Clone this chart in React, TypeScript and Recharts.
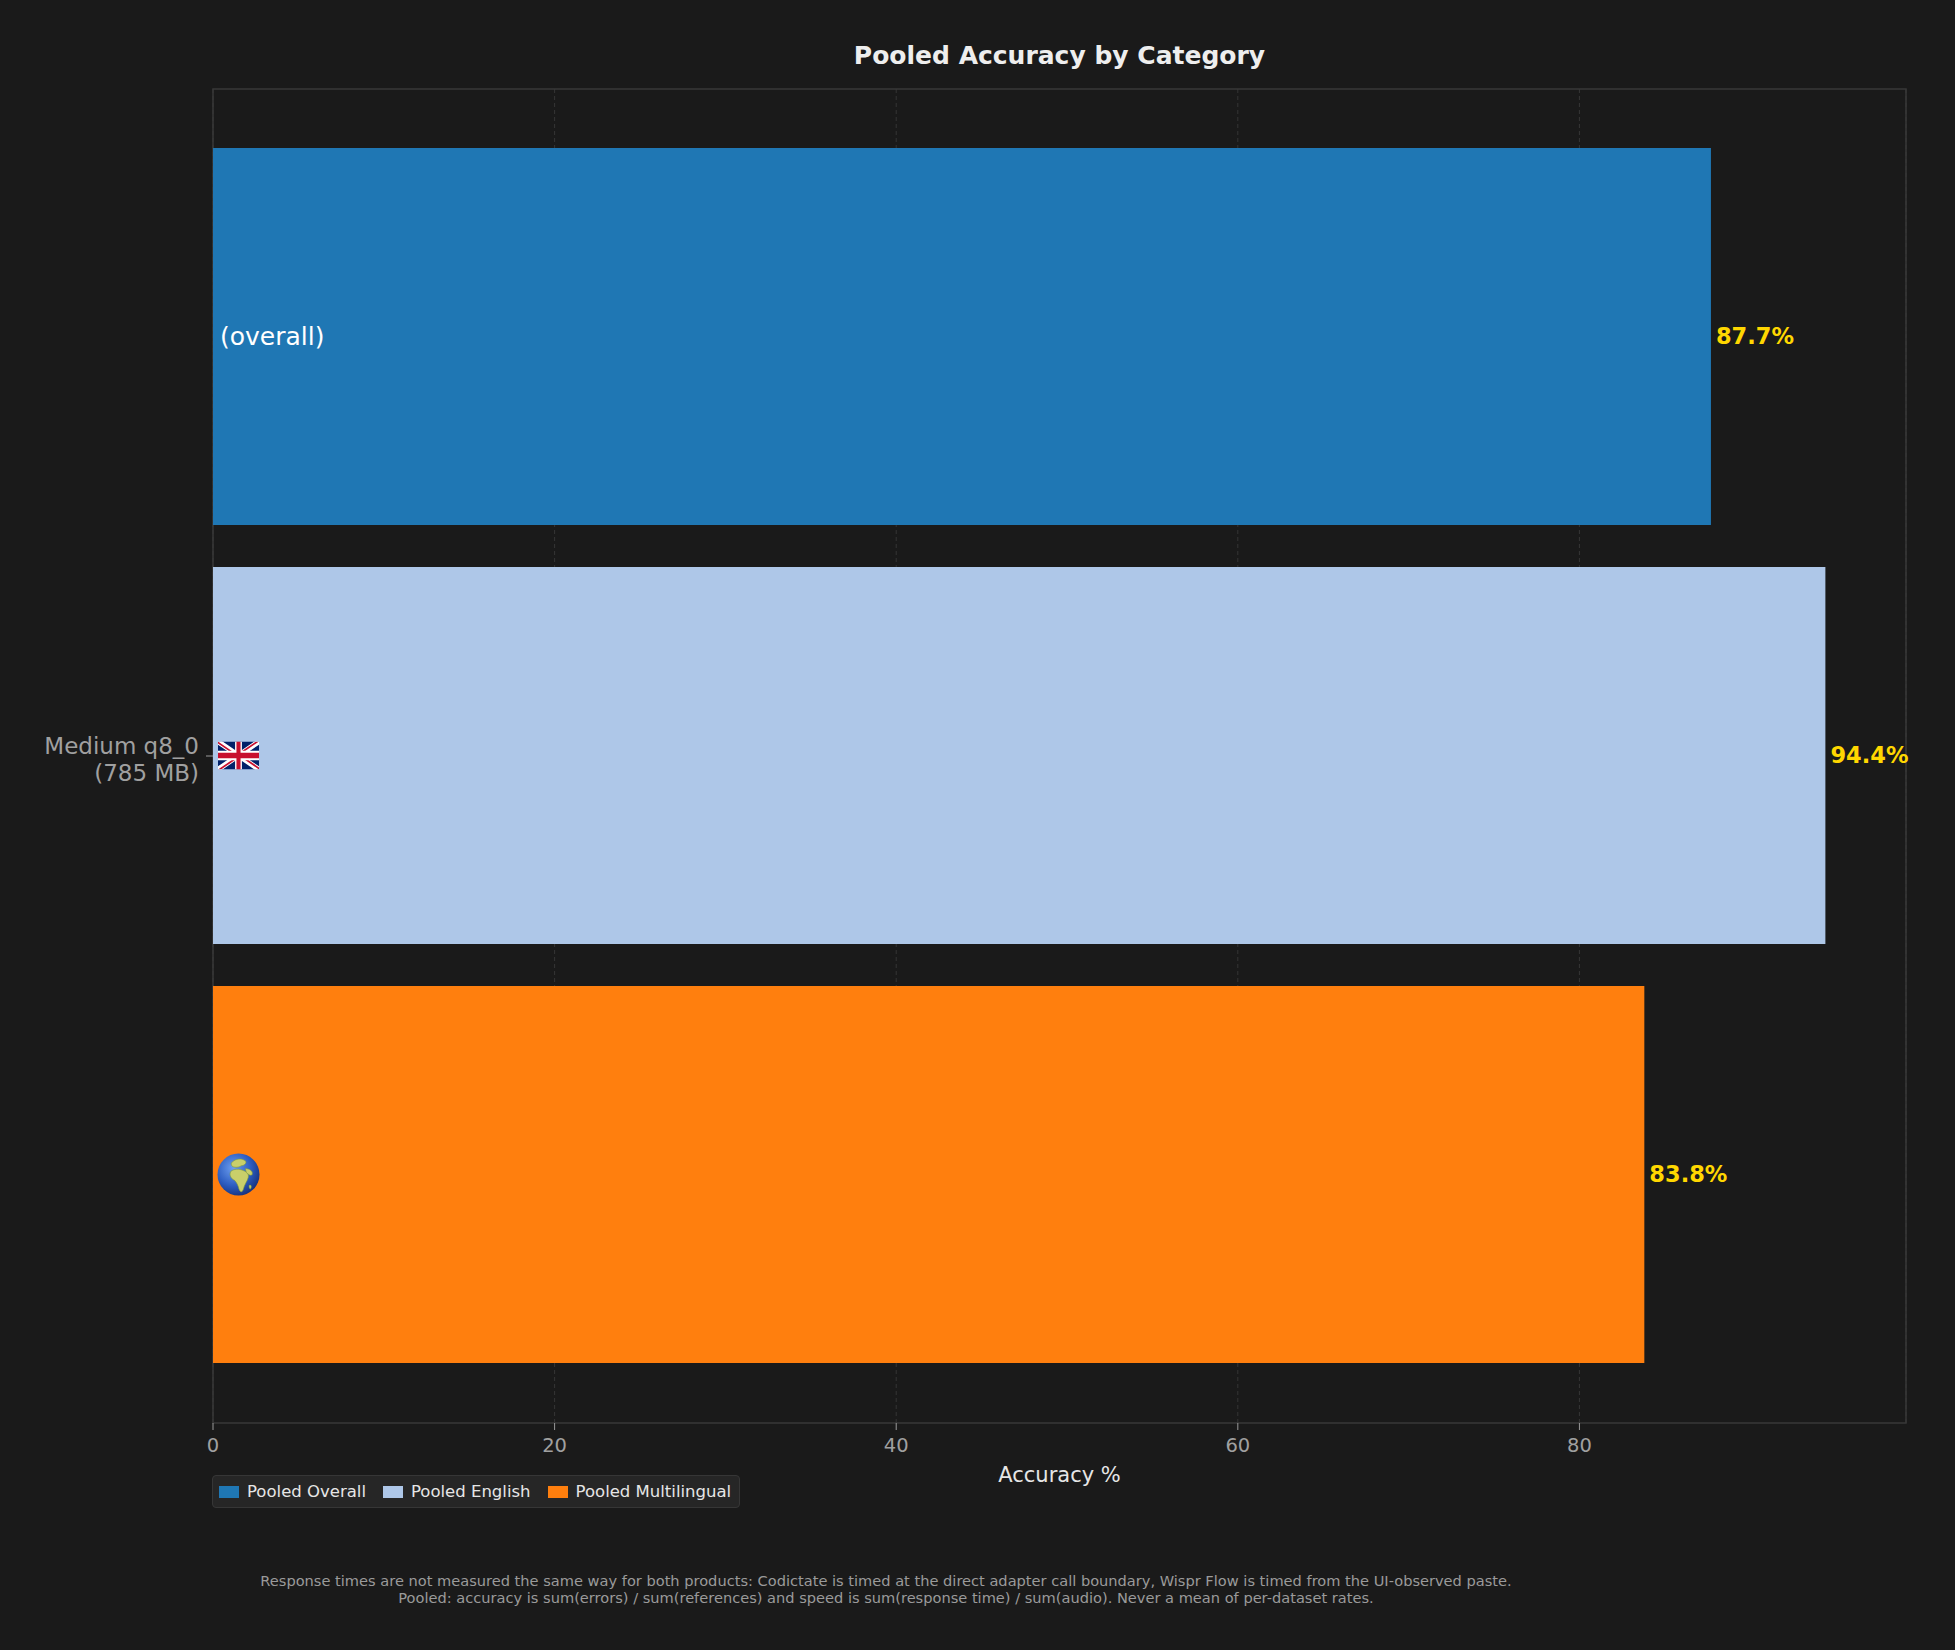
import React from 'react';
import {
  BarChart,
  Bar,
  XAxis,
  YAxis,
  CartesianGrid,
  LabelList,
  Legend,
  ReferenceArea,
} from 'recharts';

// ---------- data ----------
const categories = ['Medium q8_0\n(785 MB)'];
const pooledOverall = [87.7];
const pooledEnglish = [94.4];
const pooledMultilingual = [83.8];
const seriesKeys = ['overall', 'english', 'multi'];
const seriesNames = ['Pooled Overall', 'Pooled English', 'Pooled Multilingual'];
const seriesColors = ['#1f77b4', '#aec7e8', '#ff7f0e'];
const innerMarks = ['(overall)', 'gb-flag', 'globe'];
const xTicks = [0, 20, 40, 60, 80];
const titleText = 'Pooled Accuracy by Category';
const xLabelText = 'Accuracy %';
const footnoteLines = [
  'Response times are not measured the same way for both products: Codictate is timed at the direct adapter call boundary, Wispr Flow is timed from the UI-observed paste.',
  'Pooled: accuracy is sum(errors) / sum(references) and speed is sum(response time) / sum(audio). Never a mean of per-dataset rates.',
];

const data = categories.map((c, i) => ({
  model: c,
  overall: pooledOverall[i],
  english: pooledEnglish[i],
  multi: pooledMultilingual[i],
}));

const xMax =
  Math.max(...pooledOverall, ...pooledEnglish, ...pooledMultilingual) * 1.05;

const FONT = '"DejaVu Sans", Verdana, sans-serif';
const BG = '#1a1a1a';

// ---------- pieces ----------
const YTick = (props: any) => {
  const { x, y, payload } = props;
  const lines = String(payload.value).split('\n');
  return (
    <text
      x={x}
      y={y}
      textAnchor="end"
      fill="#a0a0a0"
      fontSize={23}
      fontFamily={FONT}
    >
      {lines.map((l, i) => (
        <tspan key={i} x={x} dy={i === 0 ? -2 : 27}>
          {l}
        </tspan>
      ))}
    </text>
  );
};

const FlagGB = ({ x, y, w, h }: { x: number; y: number; w: number; h: number }) => (
  <svg x={x} y={y} width={w} height={h} viewBox="0 0 60 30" preserveAspectRatio="none">
    <defs>
      <clipPath id="gbS">
        <path d="M0,0 v30 h60 v-30 z" />
      </clipPath>
      <clipPath id="gbT">
        <path d="M30,15 h30 v15 z v15 h-30 z h-30 v-15 z v-15 h30 z" />
      </clipPath>
    </defs>
    <g clipPath="url(#gbS)">
      <path d="M0,0 v30 h60 v-30 z" fill="#012169" />
      <path d="M0,0 L60,30 M60,0 L0,30" stroke="#fff" strokeWidth={6} />
      <path d="M0,0 L60,30 M60,0 L0,30" clipPath="url(#gbT)" stroke="#C8102E" strokeWidth={4} />
      <path d="M30,0 v30 M0,15 h60" stroke="#fff" strokeWidth={10} />
      <path d="M30,0 v30 M0,15 h60" stroke="#C8102E" strokeWidth={6} />
    </g>
  </svg>
);

const Globe = ({ cx, cy, r }: { cx: number; cy: number; r: number }) => (
  <svg x={cx - r} y={cy - r} width={2 * r} height={2 * r} viewBox="0 0 44 44">
    <defs>
      <radialGradient id="globeG" cx="0.38" cy="0.35" r="0.7">
        <stop offset="0" stopColor="#6d9ff0" />
        <stop offset="0.6" stopColor="#2c5cc0" />
        <stop offset="1" stopColor="#16307a" />
      </radialGradient>
      <clipPath id="globeC">
        <circle cx={22} cy={22} r={21.5} />
      </clipPath>
    </defs>
    <circle cx={22} cy={22} r={21.5} fill="url(#globeG)" />
    <g clipPath="url(#globeC)" fill="#c9cf6a" stroke="#7d9a3c" strokeWidth={0.6}>
      <path d="M14 19 C17 16 23 16 27 18 C30 19 33 21 32 25 C31 29 28 32 27 37 C26 40 24 41 22.5 37 C21.5 33 20 30 18 28 C15 27 12 23 14 19 Z" />
      <path d="M16 9 C19 6 25 5 29 8 C31 10 28 13 25 13 C22 15 19 15 16 14 C14 12 14 10 16 9 Z" />
      <path d="M29 16 C33 16 37 18 36 22 C35 24 32 22 30 20 Z" />
      <path d="M33 33 C35 32 36 35 34 37 C33 36 32.5 34.5 33 33 Z" />
    </g>
  </svg>
);

const makeInner = (mark: string) => (props: any) => {
  const vb = props.viewBox || props;
  const x = Number(vb.x);
  const y = Number(vb.y);
  const height = Number(vb.height);
  const cy = y + height / 2;
  if (mark === 'gb-flag') return <FlagGB x={x + 5} y={cy - 14} w={41} h={28} />;
  if (mark === 'globe') return <Globe cx={x + 25.5} cy={cy} r={21.5} />;
  return (
    <text
      x={x + 7}
      y={cy}
      dominantBaseline="central"
      fill="#ffffff"
      fontSize={25}
      fontFamily={FONT}
    >
      {mark}
    </text>
  );
};

const LegendBox = (props: any) => {
  const payload = [...(props.payload || [])].sort(
    (a: any, b: any) => seriesNames.indexOf(a.value) - seriesNames.indexOf(b.value)
  );
  return (
    <div
      style={{
        display: 'flex',
        alignItems: 'center',
        background: '#262626',
        border: '1px solid #363636',
        borderRadius: 4,
        height: 31,
        padding: '0 8px 0 6px',
        fontFamily: FONT,
        whiteSpace: 'nowrap',
      }}
    >
      {payload.map((p: any, i: number) => (
        <div
          key={i}
          style={{ display: 'flex', alignItems: 'center', marginLeft: i ? 17 : 0 }}
        >
          <span
            style={{
              width: 20,
              height: 12,
              background: p.color,
              display: 'inline-block',
              marginRight: 8,
            }}
          />
          <span style={{ color: '#e6e6e6', fontSize: 16.5, lineHeight: '17px' }}>
            {p.value}
          </span>
        </div>
      ))}
    </div>
  );
};

export default function App() {
  return (
    <div
      style={{
        position: 'absolute',
        top: 0,
        left: 0,
        width: 1955,
        height: 1650,
        background: BG,
        fontFamily: FONT,
        overflow: 'hidden',
      }}
    >
      <BarChart
        width={1955}
        height={1650}
        data={data}
        layout="vertical"
        margin={{ top: 89, right: 49, bottom: 0, left: 0 }}
        barCategoryGap={59}
        barGap={42}
      >
        <CartesianGrid
          horizontal={false}
          vertical={true}
          stroke="#353535"
          strokeDasharray="4 3"
          strokeWidth={1}
        />
        <XAxis
          type="number"
          domain={[0, xMax]}
          ticks={xTicks}
          height={227}
          axisLine={false}
          tickSize={7}
          tickMargin={8}
          tickLine={{ stroke: '#999999' }}
          tick={{ fill: '#a0a0a0', fontSize: 19.5, fontFamily: FONT }}
          label={{
            value: xLabelText,
            position: 'insideTop',
            offset: 44,
            fill: '#e6e6e6',
            fontSize: 21,
            fontFamily: FONT,
          }}
        />
        <YAxis
          type="category"
          dataKey="model"
          width={213}
          axisLine={false}
          tickSize={7}
          tickMargin={7}
          tickLine={{ stroke: '#999999' }}
          tick={<YTick />}
        />
        <ReferenceArea
          x1={0}
          x2={xMax}
          fill="none"
          stroke="#383838"
          strokeWidth={1.5}
          ifOverflow="visible"
        />
        {seriesKeys.map((k, i) => (
          <Bar
            key={k}
            dataKey={k}
            name={seriesNames[i]}
            fill={seriesColors[i]}
            isAnimationActive={false}
          >
            <LabelList dataKey={k} content={makeInner(innerMarks[i])} />
            <LabelList
              dataKey={k}
              position="right"
              offset={5}
              formatter={(v: any) => `${Number(v).toFixed(1)}%`}
              fill="#FFD700"
              fontSize={22.5}
              fontWeight="bold"
              fontFamily={FONT}
            />
          </Bar>
        ))}
        <Legend
          layout="vertical"
          align="center"
          verticalAlign="middle"
          itemSorter={null as any}
          content={<LegendBox />}
          wrapperStyle={{ position: 'absolute', left: 212, top: 1475, width: 'auto', height: 'auto' }}
        />
      </BarChart>

      <div
        style={{
          position: 'absolute',
          left: 213,
          width: 1693,
          top: 43,
          textAlign: 'center',
          fontSize: 25,
          fontWeight: 'bold',
          lineHeight: '25px',
          color: '#eeeeee',
          whiteSpace: 'nowrap',
        }}
      >
        {titleText}
      </div>

      <div
        style={{
          position: 'absolute',
          left: 0,
          width: 1772,
          top: 1571.5,
          textAlign: 'center',
          fontSize: 14.6,
          lineHeight: '17px',
          color: '#9a9a9a',
          whiteSpace: 'nowrap',
        }}
      >
        {footnoteLines.map((l, i) => (
          <div key={i}>{l}</div>
        ))}
      </div>
    </div>
  );
}
